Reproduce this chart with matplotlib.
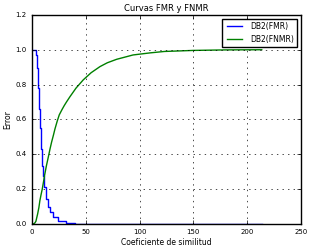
import matplotlib
matplotlib.use('Agg')
import matplotlib.pyplot as plt
import numpy as np

# Valores (umbral vs. tasa de error)
umbral_fmr = np.array([0, 3.7, 4.3, 5.3, 6.5, 7.4, 8.0, 9.6, 10.2, 11.2, 13.0, 15.0,
                       16.7, 19.8, 24.5, 32.0, 40.0, 213.5])
fmr = np.array([1.0, 0.97, 0.893, 0.78, 0.658, 0.55, 0.43, 0.335, 0.277, 0.21, 0.144,
                0.096, 0.067, 0.038, 0.019, 0.006, 0.0, 0.0])

umbral_fnmr = np.array([0, 1.2, 2.5, 3.7, 5.3, 6.5, 7.4, 8.5, 9.6, 11.0, 12.0, 13.5,
                        15.2, 16.8, 18.3, 20.0, 21.4, 23.5, 25.4, 28.0, 30.0, 32.0,
                        35.3, 41.0, 47.7, 55.0, 63.2, 70.0, 78.7, 94.0, 110.0, 123.0,
                        150.0, 180.0, 213.5])
fnmr = np.array([0.0, 0.0, 0.004, 0.015, 0.057, 0.095, 0.134, 0.168, 0.2, 0.25, 0.287,
                 0.335, 0.383, 0.43, 0.47, 0.51, 0.545, 0.59, 0.626, 0.657, 0.679,
                 0.699, 0.73, 0.78, 0.827, 0.868, 0.903, 0.925, 0.945, 0.97, 0.982,
                 0.99, 0.996, 0.999, 1.0])

plt.style.use('classic')
fig = plt.figure(figsize=(3.29, 2.48), dpi=100, facecolor='white')
ax = fig.add_axes([0.097, 0.097, 0.818, 0.843])

ax.plot(umbral_fmr, fmr, color='b', drawstyle='steps-post', linewidth=1.0, label='DB2(FMR)')
ax.plot(umbral_fnmr, fnmr, color='g', linewidth=1.0, label='DB2(FNMR)')

ax.set_xlim(0, 250)
ax.set_ylim(0, 1.2)
ax.set_xticks([0, 50, 100, 150, 200, 250])
ax.set_yticks([0.0, 0.2, 0.4, 0.6, 0.8, 1.0, 1.2])
ax.tick_params(labelsize=5, length=3)
ax.set_xlabel('Coeficiente de similitud', fontsize=5.5, labelpad=2)
ax.set_ylabel('Error', fontsize=5.5, labelpad=2)
ax.set_title('Curvas FMR y FNMR', fontsize=6, pad=3)
ax.grid(True)
ax.legend(loc='upper right', fontsize=5.5, handlelength=2.5, borderpad=0.4)

fig.savefig('out.png', dpi=100, facecolor='white')
